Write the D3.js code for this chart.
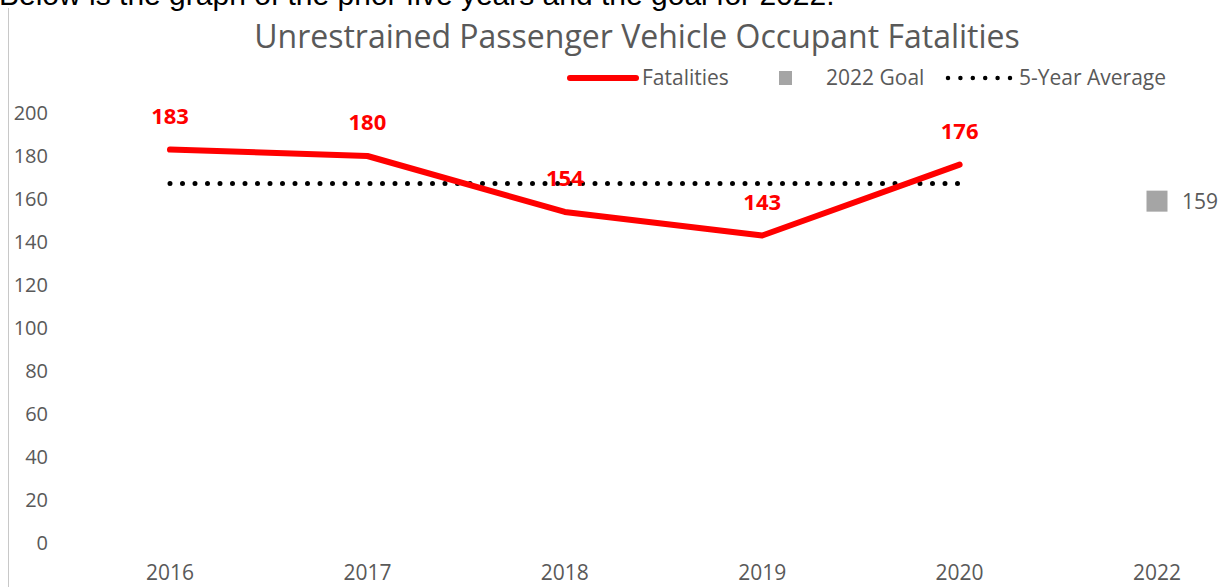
<!DOCTYPE html>
<html>
<head>
<meta charset="utf-8">
<script src="https://cdn.jsdelivr.net/npm/d3@7"></script>
<style>
  body { margin: 0; background: #fff; }
  svg { display: block; }
</style>
</head>
<body>
<div id="chart"></div>
<script>
// chart values
var years = ["2016", "2017", "2018", "2019", "2020", "2022"];
var fatalYears = ["2016", "2017", "2018", "2019", "2020"];
var fatalities = [183, 180, 154, 143, 176];
var goalYear = "2022";
var goalValue = 159;
var avgValue = 167.2;
var yTicks = [0, 20, 40, 60, 80, 100, 120, 140, 160, 180, 200];

var width = 1228, height = 587;
var font = "'Open Sans', 'Noto Sans', sans-serif";
var grey = "#595959";

var svg = d3.select("#chart").append("svg")
	.attr("width", width)
	.attr("height", height);

// page sentence cut off at the top
svg.append("text")
	.attr("x", -1)
	.attr("y", 5)
	.style("font-family", "'Liberation Sans', Arial, sans-serif")
	.style("font-size", "30px")
	.style("fill", "#000")
	.text("Below is the graph of the prior five years and the goal for 2022.");

// chart frame left edge
svg.append("line")
	.attr("x1", 8.5).attr("x2", 8.5)
	.attr("y1", 8).attr("y2", height)
	.style("stroke", "#c8c8c8")
	.style("stroke-width", 1);

var x = d3.scalePoint()
	.domain(years)
	.range([170, 1157]);

var y = d3.scaleLinear()
	.domain([0, 200])
	.range([543, 113]);

// title
svg.append("text")
	.attr("x", 637)
	.attr("y", 48)
	.attr("text-anchor", "middle")
	.style("font-family", font)
	.style("font-size", "32px")
	.style("fill", grey)
	.text("Unrestrained Passenger Vehicle Occupant Fatalities");

// y axis labels
svg.append("g").selectAll("text")
	.data(yTicks)
	.enter().append("text")
	.attr("x", 48)
	.attr("y", function(d) { return y(d); })
	.attr("dy", "0.35em")
	.attr("text-anchor", "end")
	.style("font-family", font)
	.style("font-size", "20px")
	.style("fill", grey)
	.text(function(d) { return d; });

// x axis labels
svg.append("g").selectAll("text")
	.data(years)
	.enter().append("text")
	.attr("x", function(d) { return x(d); })
	.attr("y", 580)
	.attr("text-anchor", "middle")
	.style("font-family", font)
	.style("font-size", "21px")
	.style("fill", grey)
	.text(function(d) { return d; });

// 5-year average dotted line
svg.append("line")
	.attr("x1", x("2016"))
	.attr("x2", x("2020"))
	.attr("y1", y(avgValue))
	.attr("y2", y(avgValue))
	.style("stroke", "#000")
	.style("stroke-width", 5)
	.style("stroke-linecap", "round")
	.style("stroke-dasharray", "0 12.5");

// fatalities line
var pts = fatalYears.map(function(yr, i) { return [yr, fatalities[i]]; });
var line = d3.line()
	.x(function(d) { return x(d[0]); })
	.y(function(d) { return y(d[1]); });

svg.append("path")
	.datum(pts)
	.attr("d", line)
	.style("fill", "none")
	.style("stroke", "#ff0000")
	.style("stroke-width", 6)
	.style("stroke-linecap", "round")
	.style("stroke-linejoin", "round");

svg.append("g").selectAll("text")
	.data(pts)
	.enter().append("text")
	.attr("x", function(d) { return x(d[0]); })
	.attr("y", function(d) { return y(d[1]) - 26; })
	.attr("text-anchor", "middle")
	.style("font-family", font)
	.style("font-size", "22px")
	.style("font-weight", "bold")
	.style("fill", "#ff0000")
	.text(function(d) { return d[1]; });

// goal marker
svg.append("rect")
	.attr("x", x(goalYear) - 10.5)
	.attr("y", y(goalValue) - 10.5)
	.attr("width", 21)
	.attr("height", 21)
	.style("fill", "#a5a5a5");

svg.append("text")
	.attr("x", x(goalYear) + 25)
	.attr("y", y(goalValue))
	.attr("dy", "0.35em")
	.style("font-family", font)
	.style("font-size", "21px")
	.style("fill", grey)
	.text(goalValue);

// legend
var lg = svg.append("g").attr("transform", "translate(0,78)");
lg.append("line")
	.attr("x1", 570).attr("x2", 636)
	.style("stroke", "#ff0000")
	.style("stroke-width", 6)
	.style("stroke-linecap", "round");
lg.append("text")
	.attr("x", 642).attr("dy", "0.35em")
	.style("font-family", font).style("font-size", "21px").style("fill", grey)
	.text("Fatalities");
lg.append("rect")
	.attr("x", 779).attr("y", -7)
	.attr("width", 13).attr("height", 14)
	.style("fill", "#a5a5a5");
lg.append("text")
	.attr("x", 826).attr("dy", "0.35em")
	.style("font-family", font).style("font-size", "21px").style("fill", grey)
	.text("2022 Goal");
lg.append("line")
	.attr("x1", 948).attr("x2", 1011)
	.style("stroke", "#000")
	.style("stroke-width", 4.5)
	.style("stroke-linecap", "round")
	.style("stroke-dasharray", "0 12.4");
lg.append("text")
	.attr("x", 1019).attr("dy", "0.35em")
	.style("font-family", font).style("font-size", "21px").style("fill", grey)
	.text("5-Year Average");
</script>
</body>
</html>
